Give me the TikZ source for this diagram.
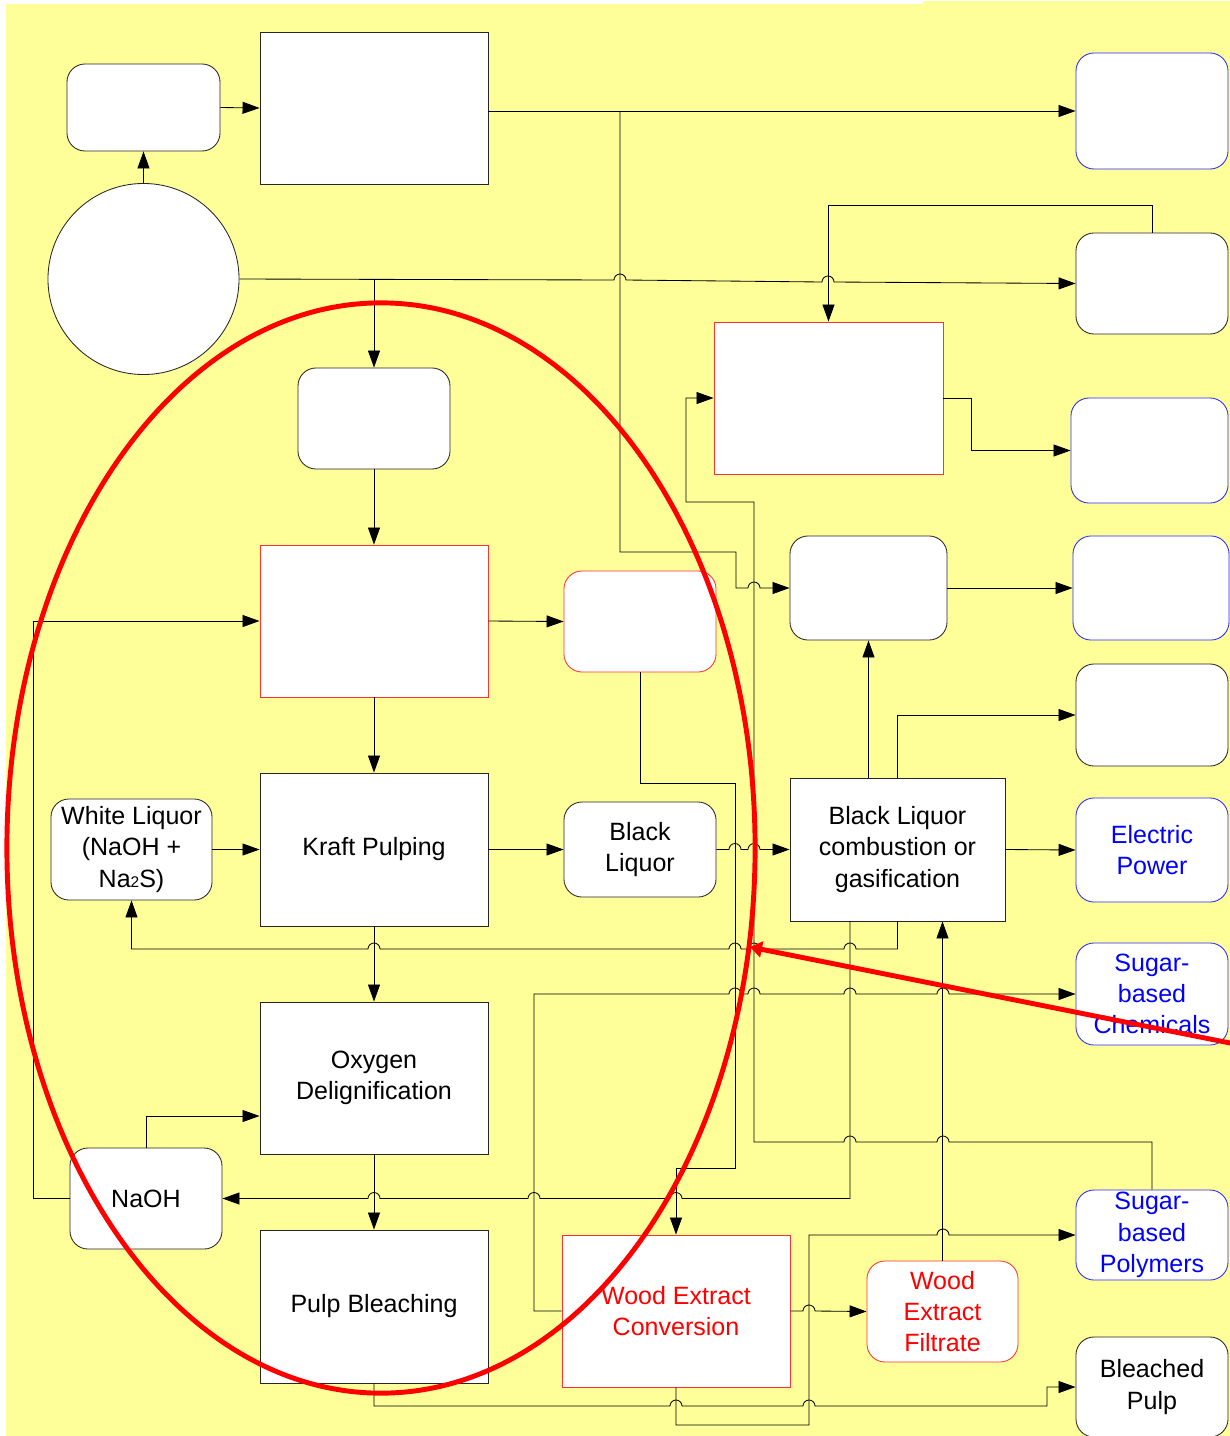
\documentclass[tikz,border=0pt]{standalone}
\usepackage{fontspec}
\setmainfont{Liberation Sans}
\usetikzlibrary{arrows.meta}
\definecolor{bgyellow}{RGB}{255,255,153}
\definecolor{boxblue}{RGB}{40,40,255}
\definecolor{boxred}{RGB}{255,50,50}

\begin{document}
\begin{tikzpicture}[x=0.025cm,y=-0.025cm]
	\tikzstyle{every node}+=[inner sep=0pt, font=\fontsize{17.8}{22.2}\selectfont]
	\tikzstyle{proc}=[draw=black!85, fill=white, line width=0.6pt, align=center]
	\tikzstyle{term}=[proc, rounded corners=0.45cm]
	\tikzstyle{redbox}=[draw=boxred, text=red]
	\tikzstyle{bluebox}=[draw=boxblue, text=blue]
	\tikzstyle{flow}=[draw=black, line width=0.6pt, -{Triangle[length=0.425cm,width=0.3cm]}]
	\tikzstyle{hopr}=[insert path={arc[start angle=180,end angle=0,radius=0.15cm]}]
	\tikzstyle{hopl}=[insert path={arc[start angle=0,end angle=180,radius=0.15cm]}]
	\useasboundingbox (0,0) rectangle (1230,1436);
	\fill [white] (0,0) rectangle (1230,1436);
	\fill [bgyellow] (6,4) rectangle (1230,1436);
	\fill [bgyellow] (923,1) rectangle (1230,4);
	% left column
	\node [term, minimum width=3.825cm, minimum height=2.175cm] (feed) at (143.5,107.5) {};
	\node [proc, minimum width=5.7cm, minimum height=3.8cm] (prep) at (374,108) {};
	\node [proc, circle, minimum size=4.775cm] (wood) at (143.5,279) {};
	\node [term, minimum width=3.8cm, minimum height=2.525cm] (chips) at (374,418.5) {};
	\node [proc, redbox, minimum width=5.7cm, minimum height=3.8cm] (extract) at (374,621) {};
	\node [term, redbox, minimum width=3.8cm, minimum height=2.525cm] (extliq) at (640,621.5) {};
	\node [proc, minimum width=5.7cm, minimum height=3.825cm] (kraft) at (374,849.5) {Kraft Pulping};
	\node [term, minimum width=4.025cm, minimum height=2.525cm] (white) at (131.5,849.5) {White Liquor\\(NaOH +\\Na{\fontsize{11}{11}\selectfont 2}S)};
	\node [term, minimum width=3.8cm, minimum height=2.375cm] (black) at (640,849.5) {Black\\Liquor};
	\node [proc, minimum width=5.7cm, minimum height=3.8cm] (oxy) at (374,1078) {Oxygen\\Delignification};
	\node [term, minimum width=3.8cm, minimum height=2.525cm] (naoh) at (146,1198.5) {NaOH};
	\node [proc, minimum width=5.7cm, minimum height=3.825cm] (bleach) at (374,1306.5) {Pulp Bleaching};
	% middle column
	\node [proc, redbox, minimum width=5.725cm, minimum height=3.8cm] (conv2) at (828.5,398) {};
	\node [term, minimum width=3.925cm, minimum height=2.6cm] (boil) at (868.5,588) {};
	\node [proc, minimum width=5.375cm, minimum height=3.575cm] (recov) at (897.5,849.5) {Black Liquor\\combustion or\\gasification};
	\node [proc, redbox, minimum width=5.7cm, minimum height=3.8cm] (conv) at (676,1311) {Wood Extract\\Conversion};
	\node [term, redbox, minimum width=3.775cm, minimum height=2.525cm] (filt) at (942.5,1311.5) {Wood\\Extract\\Filtrate};
	% products
	\node [term, bluebox, minimum width=3.8cm, minimum height=2.9cm] (out1) at (1152,111) {};
	\node [term, minimum width=3.8cm, minimum height=2.525cm] (out2) at (1152,283.5) {};
	\node [term, bluebox, minimum width=3.925cm, minimum height=2.625cm] (out3) at (1149.5,450.5) {};
	\node [term, bluebox, minimum width=3.9cm, minimum height=2.6cm] (out4) at (1151,588) {};
	\node [term, minimum width=3.8cm, minimum height=2.55cm] (out5) at (1152,715) {};
	\node [term, bluebox, minimum width=3.8cm, minimum height=2.6cm] (power) at (1152,850) {Electric\\Power};
	\node [term, bluebox, minimum width=3.8cm, minimum height=2.55cm] (chem) at (1152,994) {Sugar-\\based\\Chemicals};
	\node [term, bluebox, minimum width=3.8cm, minimum height=2.25cm] (poly) at (1152,1235) {Sugar-\\based\\Polymers};
	\node [term, minimum width=3.8cm, minimum height=2.5cm] (pulp) at (1152,1387) {Bleached\\Pulp};
	% connectors
	\draw [flow] (feed.east) -- (prep.west);
	\draw [flow] (wood.north) -- (feed.south);
	\draw [flow] (prep.east |- out1.west) -- (out1.west);
	\draw [flow] (620,111) -- (620,552) -- (736,552) -- (736,588) -- (748,588) [hopr] -- (boil.west);
	\draw [flow] (wood.east) -- (614,280) [hopr] -- (822,282) [hopr] -- (out2.west);
	\draw [flow] (wood.east -| chips.north) -- (chips.north);
	\draw [flow] (out2.north) -- (1152,205) -| (conv2.north);
	\draw [flow] (conv2.east) -- (971,398) |- (out3.west);
	\draw [flow] (poly.north) -- (1152,1142) -- (949,1142) [hopl] -- (856,1142) [hopl] -- (754,1142) -- (754,502) -- (686,502) |- (conv2.west);
	\draw [flow] (boil.east) -- (out4.west);
	\draw [flow] (boil.south |- recov.north) -- (boil.south);
	\draw [flow] (recov.north) |- (out5.west);
	\draw [flow] (chips.south) -- (extract.north);
	\draw [flow] (extract.east) -- (extliq.west);
	\draw [flow] (extliq.south) |- (735,783) -- (735,1168) -| (conv.north);
	\draw [flow] (extract.south) -- (kraft.north);
	\draw [flow] (naoh.west) -| (33,621) -- (extract.west);
	\draw [flow] (white.east) -- (kraft.west);
	\draw [flow] (kraft.east) -- (black.west);
	\draw [flow] (black.east) -- (729,849.5) [hopr] -- (748,849.5) [hopr] -- (recov.west);
	\draw [flow] (recov.east) -- (power.west);
	\draw [flow] (kraft.south) -- (oxy.north);
	\draw [flow] (recov.south) -- (897.5,949) -- (856,949) [hopl] -- (760,949) [hopl] -- (741,949) [hopl] -- (380,949) [hopl] -- (131.5,949) -- (white.south);
	\draw [flow] (conv.west) -- (534,1311) -- (534,994) -- (729,994) [hopr] -- (748,994) [hopr] -- (844,994) [hopr] -- (937,994) [hopr] -- (chem.west);
	\draw [flow] (850,921) -- (850,1198.5) -- (682,1198.5) [hopl] -- (540,1198.5) [hopl] -- (380,1198.5) [hopl] -- (naoh.east);
	\draw [flow] (naoh.north) |- (oxy.west |- 0,1116);
	\draw [flow] (oxy.south) -- (bleach.north);
	\draw [flow] (bleach.south) -- (374,1406) -- (670,1406) [hopr] -- (803,1406) [hopr] -- (1047,1406) -- (1047,1387) -- (pulp.west);
	\draw [flow] (conv.south) -- (676,1425) -- (809,1425) -- (809,1235) -- (937,1235) [hopr] -- (poly.west);
	\draw [flow] (conv.east) -- (803,1311) [hopr] -- (filt.west);
	\draw [flow] (filt.north) -- (filt.north |- recov.south);
	% red markup
	\draw [red, line width=3.5pt] (381,848) ellipse [x radius=9.35cm, y radius=13.625cm];
	\draw [red, line width=3.5pt, -{Triangle[length=0.3cm,width=0.4cm]}] (1235,1044) -- (750,947);
\end{tikzpicture}
\end{document}
